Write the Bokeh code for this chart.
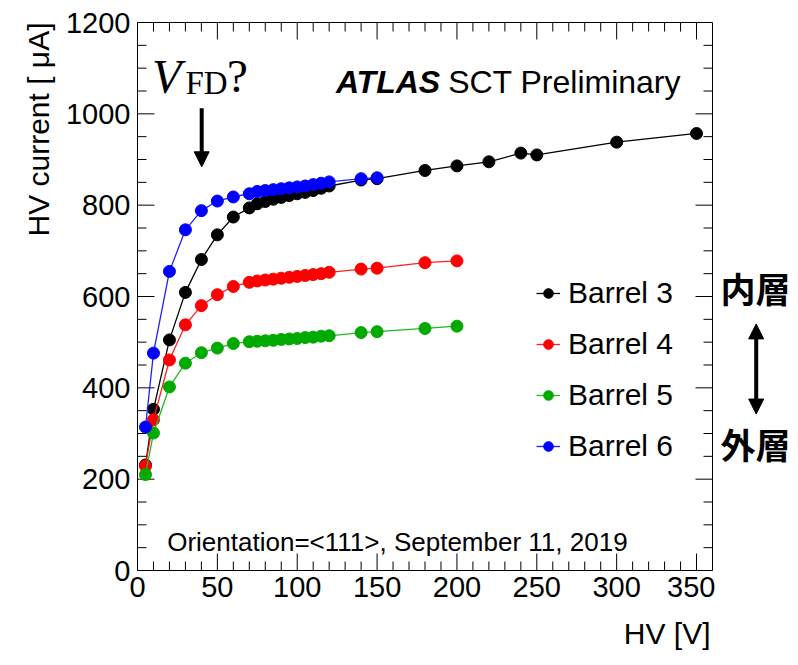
from math import pi
from bokeh.plotting import figure
from bokeh.layouts import row
from bokeh.models import (Range1d, SingleIntervalTicker, Label, Arrow, NormalHead,
                          Legend, LegendItem, ColumnDataSource, Title)
from bokeh.embed import file_html
from bokeh.resources import INLINE

# ---------------- data ----------------
hv_b3 = [5, 10, 20, 30, 40, 50, 60, 70, 75, 80, 85, 90, 95, 100, 105, 110, 115, 120,
         140, 150, 180, 200, 220, 240, 250, 300, 350]
cur_b3 = [231, 353, 505, 609, 681, 735, 774, 794, 803, 808, 813, 817, 821, 825, 828, 832, 837, 842,
          855, 858, 876, 886, 895, 914, 910, 938, 957]

hv_b4 = [5, 10, 20, 30, 40, 50, 60, 70, 75, 80, 85, 90, 95, 100, 105, 110, 115, 120,
         140, 150, 180, 200]
cur_b4 = [229, 330, 461, 538, 580, 604, 622, 631, 634, 636, 638, 640, 642, 644, 646, 648, 650, 653,
          660, 662, 674, 678]

hv_b5 = [5, 10, 20, 30, 40, 50, 60, 70, 75, 80, 85, 90, 95, 100, 105, 110, 115, 120,
         140, 150, 180, 200]
cur_b5 = [210, 301, 402, 454, 477, 487, 497, 501, 502, 503, 504, 506, 507, 508, 510, 511, 513, 514,
          521, 523, 530, 535]

hv_b6 = [5, 10, 20, 30, 40, 50, 60, 70, 75, 80, 85, 90, 95, 100, 105, 110, 115, 120,
         140, 150]
cur_b6 = [314, 476, 655, 746, 788, 809, 818, 825, 830, 832, 834, 836, 838, 840, 842, 845, 848, 851,
          858, 860]

series_names = ["Barrel 3", "Barrel 4", "Barrel 5", "Barrel 6"]
series_colors = ["#000000", "#ff0000", "#00aa00", "#0000ff"]
line_colors = ["#000000", "#ff2020", "#22bb22", "#2020ff"]

X_MAX, Y_MAX = 360, 1200
x_major_step, x_minor_step = 50, 10
y_major_step, y_minor_step = 200, 50

FONT = "Liberation Sans"

p = figure(width=715, height=664, output_backend="svg", toolbar_location=None,
           x_range=Range1d(0, X_MAX), y_range=Range1d(0, Y_MAX),
           min_border_left=137, min_border_right=3, min_border_top=22, min_border_bottom=92,
           background_fill_color="white", border_fill_color="white")
p.grid.visible = False
p.outline_line_color = "black"
p.outline_line_width = 1


def style_axis(ax):
    ax.major_tick_in = 0
    ax.major_tick_out = 0
    ax.minor_tick_in = 0
    ax.minor_tick_out = 0
    ax.axis_line_color = "black"
    ax.major_label_text_color = "black"
    ax.major_label_text_font = FONT
    ax.major_label_text_font_size = "29px"


xa = p.xaxis[0]
xa.ticker = SingleIntervalTicker(interval=x_major_step, num_minor_ticks=5)
style_axis(xa)
xa.major_label_standoff = 6

ya = p.yaxis[0]
ya.ticker = SingleIntervalTicker(interval=y_major_step, num_minor_ticks=4)
style_axis(ya)
ya.major_label_standoff = 7

# ROOT-style ticks pointing inwards on all four sides (rays with screen lengths)
x_major = list(range(0, X_MAX, x_major_step))
x_minor = [v for v in range(0, X_MAX, x_minor_step) if v % x_major_step]
y_major = list(range(0, Y_MAX, y_major_step))
y_minor = [v for v in range(0, Y_MAX, y_minor_step) if v % y_major_step]
for vals, ln in ((x_major, 17), (x_minor, 9)):
    p.ray(x=vals, y=[0] * len(vals), length=ln, length_units="screen", angle=pi / 2,
          line_color="black", line_width=1)
    p.ray(x=vals, y=[Y_MAX] * len(vals), length=ln, length_units="screen", angle=-pi / 2,
          line_color="black", line_width=1)
for vals, ln in ((y_major, 17), (y_minor, 9)):
    p.ray(x=[0] * len(vals), y=vals, length=ln, length_units="screen", angle=0,
          line_color="black", line_width=1)
    p.ray(x=[X_MAX] * len(vals), y=vals, length=ln, length_units="screen", angle=pi,
          line_color="black", line_width=1)

# ---------------- series ----------------
data = [(hv_b3, cur_b3), (hv_b4, cur_b4), (hv_b5, cur_b5), (hv_b6, cur_b6)]
items = []
for (xs, ys), name, col, lcol in zip(data, series_names, series_colors, line_colors):
    src = ColumnDataSource(dict(x=xs, y=ys))
    lr = p.line("x", "y", source=src, line_color=lcol, line_width=1.3)
    sr = p.scatter("x", "y", source=src, size=12, marker="circle",
                   fill_color=col, line_color=col)
    items.append(LegendItem(label=name, renderers=[lr, sr]))

legend = Legend(items=items, location=(399, 104), orientation="vertical",
                padding=0, margin=0, spacing=11,
                glyph_width=24, glyph_height=40, label_height=40, label_standoff=8,
                label_text_font=FONT, label_text_font_size="30px", label_text_color="black",
                border_line_color=None, background_fill_alpha=0)
p.add_layout(legend)

# ---------------- axis titles (ROOT style: aligned to the end) ----------------
p.add_layout(Title(text="HV current [ μA]", align="right", text_font=FONT,
                   text_font_size="30px", text_font_style="normal", text_color="black",
                   standoff=16), "left")
p.add_layout(Title(text="HV [V]", align="right", offset=2, text_font=FONT,
                   text_font_size="30px", text_font_style="normal", text_color="black",
                   standoff=30), "below")

# ---------------- texts ----------------
p.add_layout(Label(x=124.2, y=1069, text="ATLAS", text_font=FONT, text_font_size="32px",
                   text_font_style="bold italic", text_baseline="alphabetic", text_color="black"))
p.add_layout(Label(x=194.5, y=1069, text="SCT Preliminary", text_font=FONT, text_font_size="32px",
                   text_baseline="alphabetic", text_color="black"))
p.add_layout(Label(x=18.6, y=63, text="Orientation=<111>, September 11, 2019", text_font=FONT,
                   text_font_size="26px", text_baseline="alphabetic", text_color="black"))

# V_FD ?
p.add_layout(Label(x=9.0, y=1082, text="V", text_font="Liberation Serif", text_font_size="48px",
                   text_font_style="italic", text_baseline="alphabetic", text_color="black"))
p.add_layout(Label(x=30.0, y=1067, text="FD", text_font="Liberation Serif", text_font_size="33px",
                   text_baseline="alphabetic", text_color="black"))
p.add_layout(Label(x=56.1, y=1082, text="?", text_font="Liberation Serif", text_font_size="47px",
                   text_baseline="alphabetic", text_color="black"))

p.add_layout(Arrow(end=NormalHead(size=15, fill_color="black", line_color="black"),
                   x_start=40.2, y_start=1012, x_end=40.2, y_end=884,
                   line_width=4, line_color="black"))

# ---------------- side panel: inner / outer layer ----------------
side = figure(width=75, height=664, output_backend="svg", toolbar_location=None, title=None,
              x_range=Range1d(0, 75), y_range=Range1d(0, Y_MAX),
              x_axis_location=None, y_axis_location=None,
              min_border_left=0, min_border_right=0, min_border_top=22, min_border_bottom=92,
              outline_line_color=None, background_fill_color="white", border_fill_color="white")
side.grid.visible = False
side.add_layout(Label(x=5, y=620, text="内層", text_font="Noto Sans CJK JP", text_font_size="35px",
                      text_font_style="bold", text_baseline="middle", text_color="black"))
side.add_layout(Label(x=5, y=279, text="外層", text_font="Noto Sans CJK JP", text_font_size="35px",
                      text_font_style="bold", text_baseline="middle", text_color="black"))
side.add_layout(Arrow(start=NormalHead(size=15, fill_color="black", line_color="black"),
                      end=NormalHead(size=15, fill_color="black", line_color="black"),
                      x_start=40.7, y_start=540, x_end=40.7, y_end=342.6,
                      line_width=4, line_color="black"))

layout = row(p, side)
open("out.html", "w").write(file_html(layout, INLINE))
